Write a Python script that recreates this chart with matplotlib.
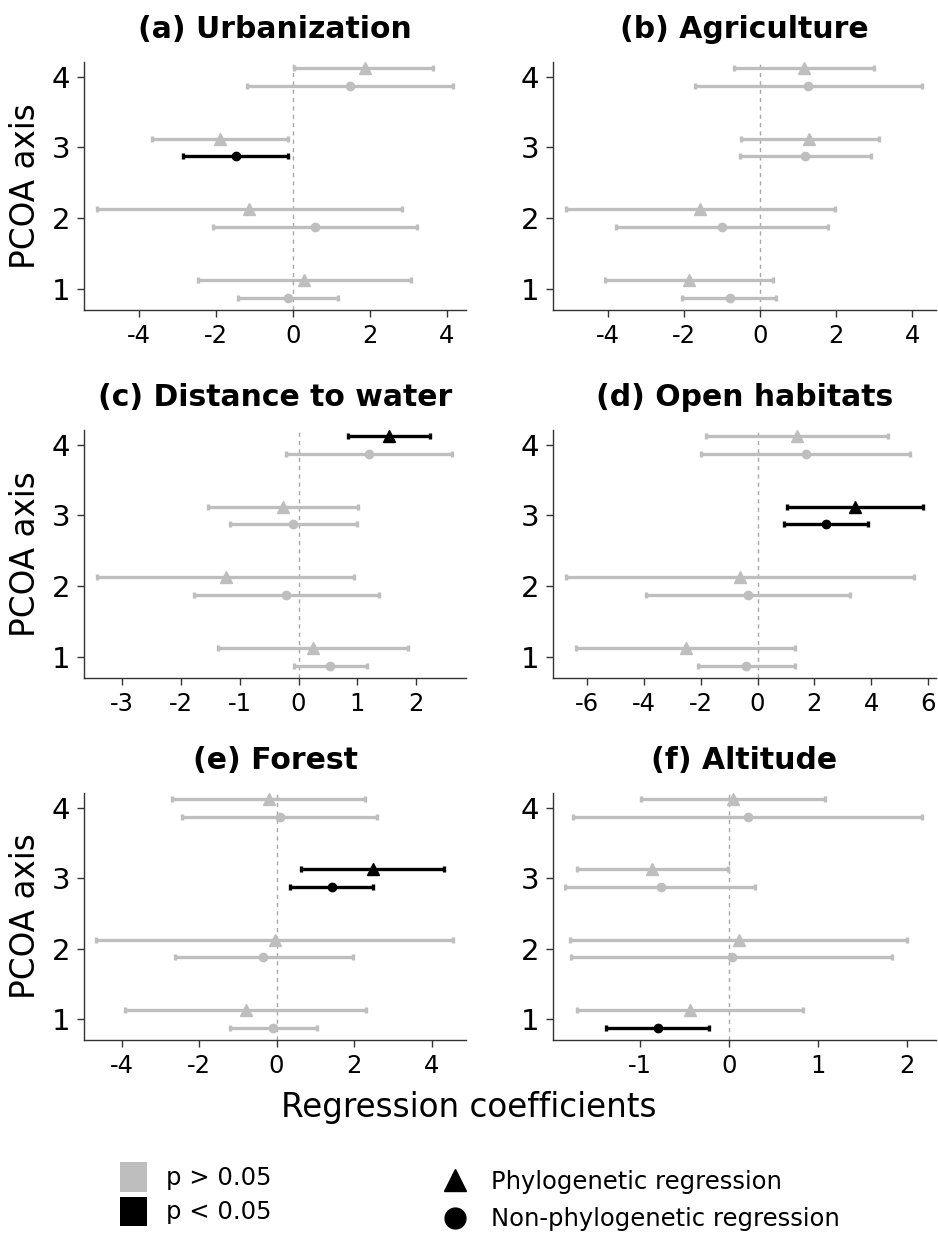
import numpy as np
import matplotlib
matplotlib.use("Agg")
import matplotlib.pyplot as plt
from matplotlib.lines import Line2D
from matplotlib.patches import Patch

plt.rcParams["font.family"] = ["DejaVu Sans"]
plt.rcParams["axes.unicode_minus"] = False

# panel titles and PCoA axes
titles = ["(a) Urbanization", "(b) Agriculture", "(c) Distance to water",
          "(d) Open habitats", "(e) Forest", "(f) Altitude"]
pcoa_axis = [1, 2, 3, 4]

# phylogenetic regression: estimate, lower, upper (axes 1..4), per panel
phy_est = [[0.28, -1.14, -1.90, 1.86],
           [-1.88, -1.57, 1.30, 1.15],
           [0.24, -1.24, -0.27, 1.54],
           [-2.53, -0.63, 3.43, 1.38],
           [-0.78, -0.05, 2.48, -0.20],
           [-0.44, 0.11, -0.87, 0.045]]
phy_lo = [[-2.48, -5.11, -3.68, 0.02],
          [-4.07, -5.12, -0.51, -0.69],
          [-1.37, -3.43, -1.54, 0.84],
          [-6.40, -6.76, 1.04, -1.83],
          [-3.90, -4.65, 0.62, -2.71],
          [-1.71, -1.79, -1.71, -0.99]]
phy_hi = [[3.06, 2.84, -0.12, 3.65],
          [0.33, 1.98, 3.14, 3.00],
          [1.86, 0.95, 1.01, 2.24],
          [1.30, 5.50, 5.81, 4.58],
          [2.32, 4.56, 4.31, 2.29],
          [0.83, 2.00, -0.015, 1.08]]
phy_sig = [[0, 0, 0, 0],
           [0, 0, 0, 0],
           [0, 0, 0, 1],
           [0, 0, 1, 0],
           [0, 0, 1, 0],
           [0, 0, 0, 0]]

# non-phylogenetic regression
npy_est = [[-0.13, 0.56, -1.49, 1.47],
           [-0.80, -1.00, 1.19, 1.27],
           [0.54, -0.21, -0.10, 1.20],
           [-0.40, -0.35, 2.41, 1.69],
           [-0.08, -0.34, 1.43, 0.10],
           [-0.80, 0.03, -0.77, 0.21]]
npy_lo = [[-1.42, -2.08, -2.87, -1.21],
          [-2.05, -3.78, -0.53, -1.72],
          [-0.08, -1.78, -1.17, -0.22],
          [-2.11, -3.94, 0.93, -2.00],
          [-1.19, -2.61, 0.36, -2.43],
          [-1.38, -1.78, -1.84, -1.75]]
npy_hi = [[1.17, 3.22, -0.12, 4.16],
          [0.42, 1.78, 2.91, 4.26],
          [1.17, 1.37, 0.99, 2.62],
          [1.32, 3.24, 3.90, 5.37],
          [1.04, 1.97, 2.50, 2.59],
          [-0.22, 1.83, 0.29, 2.17]]
npy_sig = [[0, 0, 1, 0],
           [0, 0, 0, 0],
           [0, 0, 0, 0],
           [0, 0, 1, 0],
           [0, 0, 1, 0],
           [1, 0, 0, 0]]

xlims = [(-5.44, 4.50), (-5.45, 4.63), (-3.65, 2.85),
         (-7.20, 6.28), (-4.97, 4.89), (-1.98, 2.33)]
xticks = [[-4, -2, 0, 2, 4], [-4, -2, 0, 2, 4], [-3, -2, -1, 0, 1, 2],
          [-6, -4, -2, 0, 2, 4, 6], [-4, -2, 0, 2, 4], [-1, 0, 1, 2]]

GREY = "#bebebe"
BLACK = "#000000"
W, H = 938, 1241

fig = plt.figure(figsize=(W / 100, H / 100), dpi=100)

col_x = [(84, 466), (553, 936)]
row_y = [(62, 310), (430, 678), (793, 1040)]
dodge = 0.125


def draw_series(ax, y, est, lo, hi, sig, marker, ms):
    for yi, e, l, h, s in zip(y, est, lo, hi, sig):
        c = BLACK if s else GREY
        ax.errorbar([e], [yi], xerr=[[e - l], [h - e]], fmt=marker, color=c,
                    ms=ms, elinewidth=2.4, capsize=2, capthick=2.4, zorder=3)


for i, title in enumerate(titles):
    r, c = divmod(i, 2)
    x0, x1 = col_x[c]
    y0, y1 = row_y[r]
    ax = fig.add_axes([x0 / W, 1 - y1 / H, (x1 - x0) / W, (y1 - y0) / H])
    ax.axvline(0, color="#a8a8a8", lw=1, ls=(0, (3, 3)), zorder=1)
    y = np.array(pcoa_axis, dtype=float)
    draw_series(ax, y + dodge, phy_est[i], phy_lo[i], phy_hi[i], phy_sig[i], "^", 8.5)
    draw_series(ax, y - dodge, npy_est[i], npy_lo[i], npy_hi[i], npy_sig[i], "o", 6)
    ax.set_xlim(*xlims[i])
    ax.set_ylim(0.70, 4.21)
    ax.set_xticks(xticks[i])
    ax.set_yticks(pcoa_axis)
    ax.tick_params(axis="x", labelsize=17.5, length=5, width=1, color="#333333", pad=5)
    ax.tick_params(axis="y", labelsize=21, length=5, width=1, color="#333333", pad=5)
    for side in ["top", "right"]:
        ax.spines[side].set_visible(False)
    for side in ["left", "bottom"]:
        ax.spines[side].set_color("#333333")
        ax.spines[side].set_linewidth(1)
    ax.set_title(title, fontsize=21.5, fontweight="bold", pad=17)
    if c == 0:
        ax.set_ylabel("PCOA axis", fontsize=23.5, labelpad=7)

fig.text(0.5, 1 - 1107 / H, "Regression coefficients", ha="center", va="center", fontsize=23.5)

sig_handles = [Patch(facecolor=GREY, edgecolor="none"), Patch(facecolor=BLACK, edgecolor="none")]
leg1 = fig.legend(sig_handles, ["p > 0.05", "p < 0.05"], loc="upper left",
                  bbox_to_anchor=(120 / W, 1 - 1162 / H), frameon=False, fontsize=17.5,
                  handlelength=1.1, handleheight=1.5, handletextpad=0.8,
                  labelspacing=0.2, borderpad=0, borderaxespad=0)

shape_handles = [Line2D([], [], marker="^", color=BLACK, ls="none", ms=16),
                 Line2D([], [], marker="o", color=BLACK, ls="none", ms=15)]
leg2 = fig.legend(shape_handles, ["Phylogenetic regression", "Non-phylogenetic regression"],
                  loc="upper left", bbox_to_anchor=(440 / W, 1 - 1170 / H), frameon=False,
                  fontsize=17.5, handlelength=1.2, handletextpad=0.9,
                  labelspacing=0.55, borderpad=0, borderaxespad=0)

fig.savefig("out.png", dpi=100)
